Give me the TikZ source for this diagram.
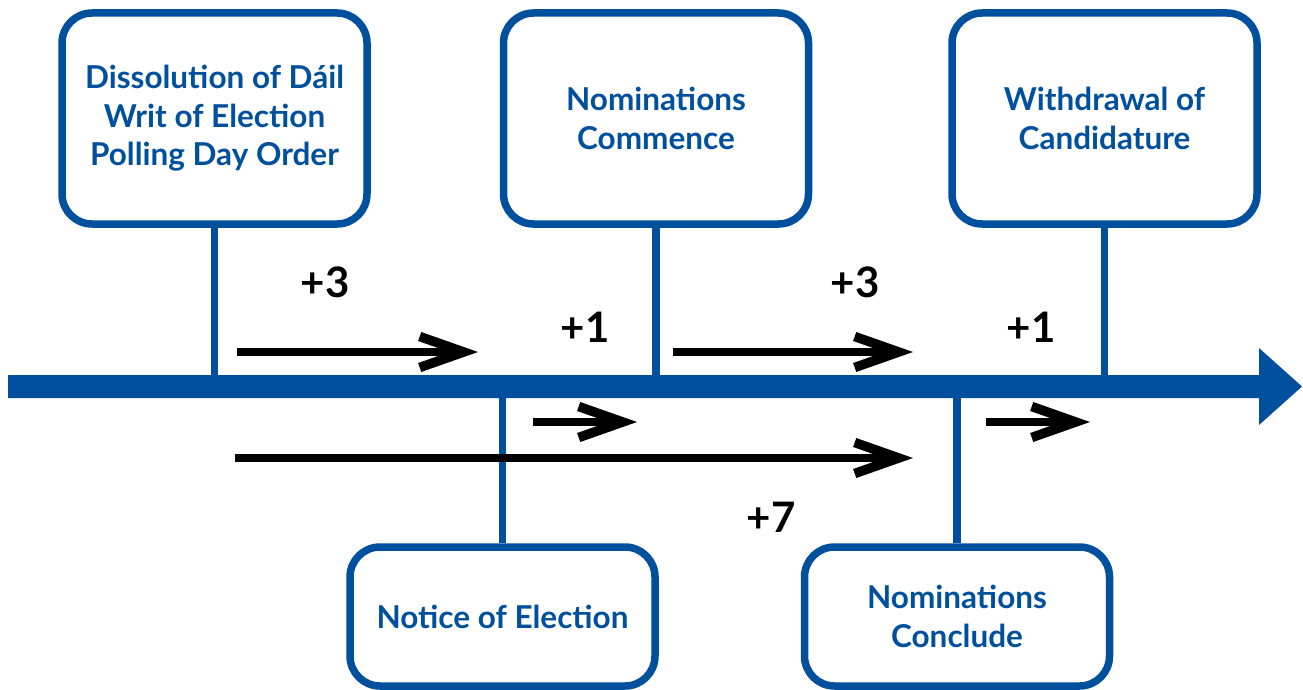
\documentclass[tikz,border=0pt]{standalone}
\usepackage{fontspec}
\setmainfont{Lato}
\usetikzlibrary{arrows.meta}
\definecolor{eblue}{RGB}{0,80,158}
\begin{document}
\begin{tikzpicture}[x=1pt,y=-1pt,
  evbox/.style={draw=eblue, line width=7.5pt, rounded corners=30pt, fill=white,
    minimum width=305pt, align=center, text=eblue, inner sep=0pt,
    font=\bfseries\fontsize{31.5}{38.5}\selectfont},
  topbox/.style={evbox, minimum height=211pt},
  botbox/.style={evbox, minimum height=139pt},
  stem/.style={draw=eblue, line width=7.5pt},
  dayarrow/.style={draw=black, line width=8pt,
    -{Straight Barb[length=44pt, width=31pt, line width=9.5pt, sharp]}},
  daylabel/.style={font=\bfseries\fontsize{42}{42}\selectfont, text=black, inner sep=0pt}
]
\useasboundingbox (0,0) rectangle (1303,690);
% main axis
\fill[eblue] (8,375) -- (1259,375) -- (1259,348) -- (1302,386.5) -- (1259,425) -- (1259,398) -- (8,398) -- cycle;
\coordinate (axtop) at (0,376);
\coordinate (axbot) at (0,397);
% boxes
\node[topbox] (b1) at (214.5,118.5) {Dissolution of Dáil\\Writ of Election\\Polling Day Order};
\node[topbox] (b2) at (656,118.5) {Nominations\\Commence};
\node[topbox] (b3) at (1104.5,118.5) {Withdrawal of\\Candidature};
\node[botbox] (b4) at (502.5,616.5) {Notice of Election};
\node[botbox] (b5) at (957,616.5) {Nominations\\Conclude};
% stems
\draw[stem] (b1.south) -- (b1.south |- axtop);
\draw[stem] (b2.south) -- (b2.south |- axtop);
\draw[stem] (b3.south) -- (b3.south |- axtop);
\draw[stem] (b4.north) -- (b4.north |- axbot);
\draw[stem] (b5.north) -- (b5.north |- axbot);
% day arrows
\coordinate (a1s) at (237,352); \coordinate (a1e) at (478,352);
\coordinate (a2s) at (533,422); \coordinate (a2e) at (637,422);
\coordinate (a3s) at (673,352); \coordinate (a3e) at (913,352);
\coordinate (a4s) at (986,422); \coordinate (a4e) at (1090,422);
\coordinate (a5s) at (235,458); \coordinate (a5e) at (913,458);
\draw[dayarrow] (a1s) -- (a1e);
\draw[dayarrow] (a2s) -- (a2e);
\draw[dayarrow] (a3s) -- (a3e);
\draw[dayarrow] (a4s) -- (a4e);
\draw[dayarrow] (a5s) -- (a5e);
% labels
\node[daylabel] (l1) at (325,282) {+3};
\node[daylabel] (l2) at (585,327) {+1};
\node[daylabel] (l3) at (855,282) {+3};
\node[daylabel] (l4) at (1031,327) {+1};
\node[daylabel] (l5) at (771,517) {+7};
\end{tikzpicture}
\end{document}
